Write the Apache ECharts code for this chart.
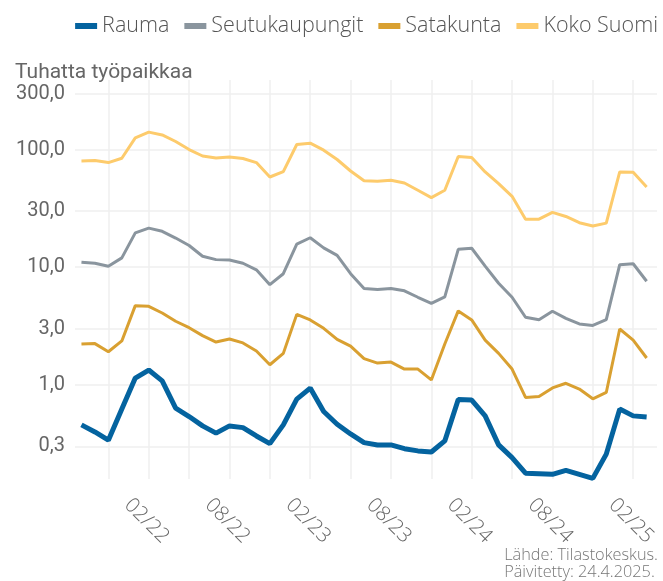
<!DOCTYPE html>
<html>
<head>
<meta charset="utf-8">
<script src="https://cdn.jsdelivr.net/npm/echarts@6/dist/echarts.min.js"></script>
<style>
  html, body { margin: 0; padding: 0; background: #fff; }
  #chart { width: 663px; height: 581px; }
</style>
</head>
<body>
<div id="chart"></div>
<script>
// Months Sep 2021 - Mar 2025
const months = [
  '09/21', '10/21', '11/21', '12/21',
  '01/22', '02/22', '03/22', '04/22', '05/22', '06/22', '07/22', '08/22', '09/22', '10/22', '11/22', '12/22',
  '01/23', '02/23', '03/23', '04/23', '05/23', '06/23', '07/23', '08/23', '09/23', '10/23', '11/23', '12/23',
  '01/24', '02/24', '03/24', '04/24', '05/24', '06/24', '07/24', '08/24', '09/24', '10/24', '11/24', '12/24',
  '01/25', '02/25', '03/25'
]

// thousands of jobs (log scale)
const rauma = [0.456, 0.397, 0.338, 0.621, 1.14, 1.335, 1.08, 0.633, 0.537, 0.447,
  0.388, 0.447, 0.432, 0.367, 0.316, 0.456, 0.755, 0.937, 0.592, 0.462,
  0.382, 0.322, 0.308, 0.308, 0.286, 0.274, 0.268, 0.333, 0.750, 0.741,
  0.544, 0.308, 0.240, 0.177, 0.175, 0.173, 0.187, 0.173, 0.160, 0.257,
  0.621, 0.544, 0.533]
const seutukaupungit = [11.0, 10.8, 10.2, 12.0, 19.6, 21.5, 20.2, 17.7, 15.3, 12.4,
  11.6, 11.5, 10.8, 9.5, 7.1, 8.8, 15.7, 17.8, 14.6, 12.6,
  8.8, 6.6, 6.45, 6.6, 6.3, 5.55, 4.93, 5.6, 14.2, 14.5,
  10.2, 7.3, 5.55, 3.75, 3.58, 4.22, 3.67, 3.29, 3.2, 3.58,
  10.5, 10.7, 7.6]
const satakunta = [2.22, 2.24, 1.91, 2.36, 4.71, 4.65, 4.08, 3.47, 3.06, 2.62,
  2.31, 2.45, 2.27, 1.94, 1.48, 1.85, 3.97, 3.56, 3.02, 2.43,
  2.13, 1.67, 1.53, 1.56, 1.36, 1.36, 1.10, 2.22, 4.25, 3.56,
  2.40, 1.85, 1.36, 0.78, 0.795, 0.94, 1.03, 0.92, 0.76, 0.86,
  2.98, 2.40, 1.69]
const kokoSuomi = [80.1, 80.7, 77.6, 84.5, 125.9, 140.8, 133.4, 117.2, 100.2, 88.3,
  85.0, 86.7, 84.0, 77.6, 58.5, 65.0, 110.5, 113.5, 98.9, 82.4,
  65.8, 54.3, 53.8, 54.8, 52.0, 45.1, 39.1, 45.1, 87.3, 85.7,
  64.6, 51.4, 40.1, 25.6, 25.6, 29.3, 27.0, 23.9, 22.4, 23.7,
  64.6, 64.2, 48.1]

const yTicks = [0.3, 1, 3, 10, 30, 100, 300]
const gridMonths = [2, 5, 8, 11, 14, 17, 20, 23, 26, 29, 32, 35, 38, 41]
const labelMonths = [5, 11, 17, 23, 29, 35, 41]

const colors = {
  rauma: '#04639f',
  seutu: '#8a959e',
  sata: '#d9a031',
  koko: '#fdcb6c',
}

const toPairs = arr => arr.map((v, i) => [i, v])

const chart = echarts.init(document.getElementById('chart'), null, { renderer: 'canvas' })

const gridLine = { show: true, lineStyle: { color: '#efefef', width: 1.5 } }
const sans = 'Roboto, "Liberation Sans", sans-serif'
const light = '"Open Sans", Lato, sans-serif'

chart.setOption({
  animation: false,
  backgroundColor: '#fff',
  title: {
    text: 'Tuhatta työpaikkaa',
    left: 10, top: 57,
    textStyle: { fontFamily: sans, fontSize: 21, fontWeight: 'normal', color: '#666' },
  },
  graphic: [{
    type: 'text',
    right: 5, bottom: 0,
    style: {
      text: 'Lähde: Tilastokeskus.\nPäivitetty: 24.4.2025.',
      align: 'right',
      font: '300 16.3px ' + light,
      lineHeight: 17,
      fill: '#777',
    },
  }],
  legend: {
    top: 10, right: 0,
    itemWidth: 22, itemHeight: 6, itemGap: 15,
    icon: 'rect',
    textStyle: { fontFamily: light, fontSize: 21.5, fontWeight: 300, color: '#555' },
    data: ['Rauma', 'Seutukaupungit', 'Satakunta', 'Koko Suomi'],
  },
  grid: { left: 75, right: 6, top: 80, bottom: 102, containLabel: false },
  xAxis: {
    type: 'value',
    min: -0.48, max: 42.77,
    axisLine: { show: false },
    axisTick: { show: false, customValues: gridMonths },
    splitLine: gridLine,
    axisLabel: {
      customValues: labelMonths,
      formatter: v => months[v],
      rotate: -45,
      align: 'center',
      verticalAlign: 'middle',
      margin: 44,
      padding: [6, 6, 0, 0],
      fontFamily: light, fontSize: 20.5, fontWeight: 300, color: '#666',
    },
  },
  yAxis: {
    type: 'log',
    logBase: 10,
    min: 0.158, max: 391,
    axisLine: { show: false },
    axisTick: { show: false, customValues: yTicks },
    splitLine: gridLine,
    axisLabel: {
      customValues: yTicks,
      formatter: v => Number(v).toFixed(1).replace('.', ','),
      margin: 10,
      fontFamily: sans, fontSize: 20, color: '#666',
    },
  },
  series: [
    { name: 'Rauma', type: 'line', data: toPairs(rauma), symbol: 'none',
      itemStyle: { color: colors.rauma }, lineStyle: { color: colors.rauma, width: 5 } },
    { name: 'Seutukaupungit', type: 'line', data: toPairs(seutukaupungit), symbol: 'none',
      itemStyle: { color: colors.seutu }, lineStyle: { color: colors.seutu, width: 3 } },
    { name: 'Satakunta', type: 'line', data: toPairs(satakunta), symbol: 'none',
      itemStyle: { color: colors.sata }, lineStyle: { color: colors.sata, width: 3 } },
    { name: 'Koko Suomi', type: 'line', data: toPairs(kokoSuomi), symbol: 'none',
      itemStyle: { color: colors.koko }, lineStyle: { color: colors.koko, width: 3 } },
  ],
})
</script>
</body>
</html>
